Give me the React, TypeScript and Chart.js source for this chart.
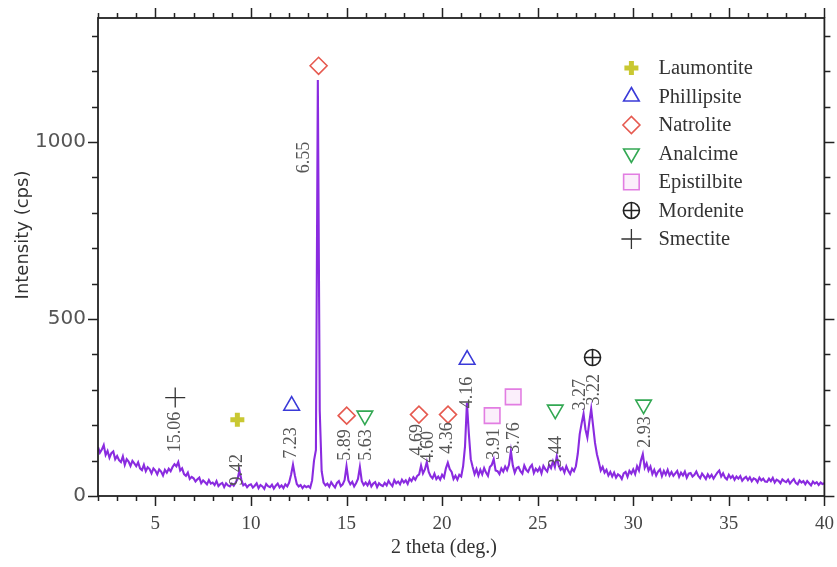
import React, { useEffect, useRef } from 'react';
import { Chart, registerables } from 'chart.js';
import { drawPoint } from 'chart.js/helpers';

Chart.register(...registerables);

// XRD scan: 2θ from 2.0° to 40.0°, step 0.1°
const scanStart = 2.0;
const scanStep = 0.1;
const intensity = [
  // 2
  138, 122, 131, 144, 116, 127, 108, 121, 126, 104,
  // 3
  113, 101, 96, 112, 88, 104, 97, 85, 99, 92,
  // 4
  84, 95, 78, 73, 88, 70, 81, 76, 64, 78,
  // 5
  72, 61, 75, 69, 58, 74, 66, 77, 70, 82,
  // 6
  90, 84, 96, 72, 78, 62, 57, 66, 48, 54,
  // 7
  50, 41, 47, 52, 36, 44, 39, 33, 45, 35,
  // 8
  38, 31, 42, 28, 34, 37, 25, 36, 30, 27,
  // 9
  35, 29, 38, 48, 72, 46, 30, 34, 25, 31,
  // 10
  33, 24, 29, 36, 22, 31, 27, 20, 34, 28,
  // 11
  25, 32, 21, 29, 35, 24, 30, 22, 33, 27,
  // 12
  38, 60, 88, 58, 34, 27, 31, 22, 29, 25,
  // 13
  28, 23, 44, 100, 130, 1175, 240, 70, 38, 30,
  // 14
  35, 26, 39, 31, 24, 37, 42, 28, 33, 45,
  // 15
  84, 44, 33, 40, 27, 36, 48, 82, 42, 31,
  // 16
  38, 30, 41, 27, 35, 39, 25, 36, 31, 28,
  // 17
  37, 30, 43, 34, 28, 45, 36, 41, 33, 46,
  // 18
  38, 44, 34, 49, 42, 53, 46, 57, 61, 86,
  // 19
  64, 75, 96, 68, 56, 50, 63, 48, 55, 46,
  // 20
  60, 52, 78, 94, 76, 68, 48, 57, 46, 60,
  // 21
  55, 84, 140, 263, 176, 104, 82, 62, 76, 58,
  // 22
  74, 61, 79, 66, 57, 82, 88, 104, 72, 70,
  // 23
  62, 78, 69, 83, 73, 88, 127, 86, 66, 79,
  // 24
  82, 70, 63, 86, 74, 68, 81, 88, 65, 77,
  // 25
  70, 80, 64, 85, 76, 69, 88, 79, 98, 82,
  // 26
  112, 86, 74, 80, 66, 84, 71, 62, 77, 70,
  // 27
  84, 120, 175, 205, 232, 188, 165, 208, 246, 198,
  // 28
  150, 118, 96, 72, 82, 66, 74, 58, 68, 55,
  // 29
  66, 52, 61, 57, 48, 64, 68, 54, 71, 63,
  // 30
  75, 62, 84, 72, 100, 118, 80, 92, 72, 83,
  // 31
  62, 74, 58, 69, 75, 56, 71, 60, 74, 58,
  // 32
  68, 57, 64, 71, 54, 66, 58, 69, 52, 63,
  // 33
  65, 55, 60, 69, 57, 50, 63, 56, 48, 61,
  // 34
  52, 60, 49, 58, 66, 72, 55, 64, 52, 47,
  // 35
  60, 51, 57, 46, 55, 49, 56, 43, 50, 54,
  // 36
  45, 53, 42, 50, 47, 39, 52, 44, 49, 41,
  // 37
  40, 49, 42, 51, 38, 46, 43, 36, 47, 42,
  // 38
  39, 46, 35, 42, 48, 37, 33, 44, 38, 42,
  // 39
  33, 42, 36, 30, 41, 35, 39, 31, 38, 34,
  // 40
  36,
];
const twoTheta = intensity.map((_, i) => +(scanStart + i * scanStep).toFixed(2));

// axis ticks
const xTickLabels = [5, 10, 15, 20, 25, 30, 35, 40];
const yTickLabels = [0, 500, 1000];
const xMin = 2, xMax = 40, yMin = 0, yMax = 1350;

// phase markers
const laumontiteX = [9.29];
const laumontiteY = [215];
const phillipsiteX = [12.13, 21.31];
const phillipsiteY = [255, 385];
const natroliteX = [13.54, 15.01, 18.79, 20.31];
const natroliteY = [1215, 227, 230, 230];
const analcimeX = [15.96, 25.92, 30.54];
const analcimeY = [227, 244, 258];
const epistilbiteX = [22.62, 23.72];
const epistilbiteY = [227, 280];
const mordeniteX = [27.87];
const mordeniteY = [391];
const smectiteX = [6.04];
const smectiteY = [278];

// d-spacing labels (Å)
const dLabels = ['15.06', '9.42', '7.23', '6.55', '5.89', '5.63', '4.69', '4.60', '4.36', '4.16', '3.91', '3.76', '3.44', '3.27', '3.22', '2.93'];
const dLabelX = [6.04, 9.29, 12.13, 12.80, 14.91, 16.01, 18.69, 19.26, 20.26, 21.31, 22.72, 23.77, 25.98, 27.24, 27.97, 30.64];
const dLabelY = [181, 74, 150, 956, 144, 144, 159, 139, 164, 292, 147, 164, 125, 286, 300, 181];

const phaseNames = ['Laumontite', 'Phillipsite', 'Natrolite', 'Analcime', 'Epistilbite', 'Mordenite', 'Smectite'];

type MarkerStyle = { pointStyle: string; radius: number; rotation: number; borderWidth: number; color: string; fill: string };
const styles: Record<string, MarkerStyle[]> = {
  Laumontite: [{ pointStyle: 'cross', radius: 7, rotation: 0, borderWidth: 5, color: '#c9c832', fill: 'rgba(0,0,0,0)' }],
  Phillipsite: [{ pointStyle: 'triangle', radius: 9, rotation: 0, borderWidth: 1.6, color: '#3a3ad8', fill: 'rgba(255,255,255,0)' }],
  Natrolite: [{ pointStyle: 'rectRot', radius: 8.5, rotation: 0, borderWidth: 1.6, color: '#e65a50', fill: 'rgba(255,255,255,0)' }],
  Analcime: [{ pointStyle: 'triangle', radius: 9, rotation: 180, borderWidth: 1.6, color: '#33a853', fill: 'rgba(255,255,255,0)' }],
  Epistilbite: [{ pointStyle: 'rect', radius: 11, rotation: 0, borderWidth: 1.6, color: '#e27de2', fill: 'rgba(240,190,240,0.25)' }],
  Mordenite: [
    { pointStyle: 'circle', radius: 8, rotation: 0, borderWidth: 1.6, color: '#222', fill: 'rgba(255,255,255,0)' },
    { pointStyle: 'cross', radius: 8, rotation: 0, borderWidth: 1.6, color: '#222', fill: 'rgba(0,0,0,0)' },
  ],
  Smectite: [{ pointStyle: 'cross', radius: 10, rotation: 0, borderWidth: 1.3, color: '#333', fill: 'rgba(0,0,0,0)' }],
};

const phaseData: Record<string, { x: number[]; y: number[] }> = {
  Laumontite: { x: laumontiteX, y: laumontiteY },
  Phillipsite: { x: phillipsiteX, y: phillipsiteY },
  Natrolite: { x: natroliteX, y: natroliteY },
  Analcime: { x: analcimeX, y: analcimeY },
  Epistilbite: { x: epistilbiteX, y: epistilbiteY },
  Mordenite: { x: mordeniteX, y: mordeniteY },
  Smectite: { x: smectiteX, y: smectiteY },
};

const serif = '"Liberation Serif", "Times New Roman", serif';
const sans = '"DejaVu Sans", sans-serif';

const framePlugin = {
  id: 'frameTicks',
  afterDraw(chart: any) {
    const { ctx, chartArea: a, scales } = chart;
    const xs = scales.x, ys = scales.y;
    ctx.save();
    ctx.strokeStyle = '#222';
    ctx.lineWidth = 1.8;
    ctx.strokeRect(a.left, a.top, a.right - a.left, a.bottom - a.top);
    ctx.lineWidth = 1.5;
    ctx.beginPath();
    for (let v = xMin; v <= xMax; v += 1) {
      const px = Math.round(xs.getPixelForValue(v)) + 0.5;
      const len = v % 5 === 0 ? 10 : 5;
      ctx.moveTo(px, a.bottom); ctx.lineTo(px, a.bottom + len);
      ctx.moveTo(px, a.top); ctx.lineTo(px, a.top - len);
    }
    for (let v = yMin; v <= yMax; v += 100) {
      const py = Math.round(ys.getPixelForValue(v)) + 0.5;
      const len = v % 500 === 0 ? 10 : 6;
      ctx.moveTo(a.left, py); ctx.lineTo(a.left - len, py);
      ctx.moveTo(a.right, py); ctx.lineTo(a.right + len, py);
    }
    ctx.stroke();

    // d-spacing labels
    ctx.fillStyle = '#555';
    ctx.font = `18px ${serif}`;
    ctx.textAlign = 'center';
    ctx.textBaseline = 'middle';
    dLabels.forEach((t, i) => {
      const px = xs.getPixelForValue(dLabelX[i]);
      const py = ys.getPixelForValue(dLabelY[i]);
      ctx.save();
      ctx.translate(px, py);
      ctx.rotate(-Math.PI / 2);
      ctx.fillText(t, 0, 0);
      ctx.restore();
    });

    // legend
    const lx = a.right - 193;
    const ly = a.top + 50;
    phaseNames.forEach((name, i) => {
      const cy = ly + i * 28.5;
      styles[name].forEach((s) => {
        ctx.save();
        ctx.strokeStyle = s.color;
        ctx.fillStyle = s.fill;
        ctx.lineWidth = s.borderWidth;
        drawPoint(ctx, { pointStyle: s.pointStyle as any, radius: s.radius, rotation: s.rotation, borderWidth: s.borderWidth }, lx, cy);
        ctx.restore();
      });
      ctx.fillStyle = '#333';
      ctx.font = `20.5px ${serif}`;
      ctx.textAlign = 'left';
      ctx.textBaseline = 'middle';
      ctx.fillText(name, lx + 27, cy + 1);
    });

    // axis titles
    ctx.fillStyle = '#333';
    ctx.font = `20px ${serif}`;
    ctx.textAlign = 'center';
    ctx.textBaseline = 'middle';
    ctx.fillText('2 theta (deg.)', 444, 548);
    ctx.save();
    ctx.translate(23, 235);
    ctx.rotate(-Math.PI / 2);
    ctx.fillStyle = '#333';
    ctx.font = `18px ${sans}`;
    ctx.fillText('Intensity (cps)', 0, 0);
    ctx.restore();
    ctx.restore();
  },
};

const zeroPad = (s: any) => {
  s.paddingLeft = 0;
  s.paddingRight = 0;
  s.paddingTop = 0;
  s.paddingBottom = 0;
};

export default function App() {
  const ref = useRef<HTMLCanvasElement>(null);
  useEffect(() => {
    if (!ref.current) return;
    const datasets: any[] = [
      {
        label: 'XRD',
        data: twoTheta.map((x, i) => ({ x, y: intensity[i] })),
        showLine: true,
        borderColor: '#8a2be0',
        backgroundColor: '#8a2be0',
        borderWidth: 2.1,
        pointRadius: 0,
        tension: 0,
        order: 2,
      },
    ];
    phaseNames.forEach((name) => {
      const d = phaseData[name];
      styles[name].forEach((s) => {
        datasets.push({
          label: name,
          data: d.x.map((x, i) => ({ x, y: d.y[i] })),
          showLine: false,
          pointStyle: s.pointStyle,
          pointRadius: s.radius,
          pointRotation: s.rotation,
          pointBorderWidth: s.borderWidth,
          pointBorderColor: s.color,
          pointBackgroundColor: s.fill,
          order: 1,
        });
      });
    });
    const chart = new Chart(ref.current, {
      type: 'scatter',
      data: { datasets },
      options: {
        animation: false,
        responsive: false,
        layout: { padding: { left: 0, top: 18, right: 11, bottom: 0 } },
        plugins: { legend: { display: false }, tooltip: { enabled: false } },
        scales: {
          x: {
            type: 'linear',
            min: xMin,
            max: xMax,
            grid: { display: false },
            border: { display: false },
            afterBuildTicks: (s: any) => { s.ticks = xTickLabels.map((v) => ({ value: v })); },
            afterFit: (s: any) => { s.height = 71; zeroPad(s); },
            ticks: { color: '#444', font: { family: serif, size: 19 }, padding: 9, maxRotation: 0, callback: (v: any) => String(v) },
          },
          y: {
            type: 'linear',
            min: yMin,
            max: yMax,
            grid: { display: false },
            border: { display: false },
            afterBuildTicks: (s: any) => { s.ticks = yTickLabels.map((v) => ({ value: v })); },
            afterFit: (s: any) => { s.width = 98; zeroPad(s); },
            ticks: { color: '#555', font: { family: sans, size: 20 }, padding: 4, callback: (v: any) => String(v) },
          },
        },
      },
      plugins: [framePlugin],
    });
    return () => chart.destroy();
  }, []);
  return (
    <div style={{ position: 'fixed', left: 0, top: 0, width: 837, height: 567, background: '#fff' }}>
      <canvas ref={ref} width={837} height={567} style={{ width: 837, height: 567 }} />
    </div>
  );
}
